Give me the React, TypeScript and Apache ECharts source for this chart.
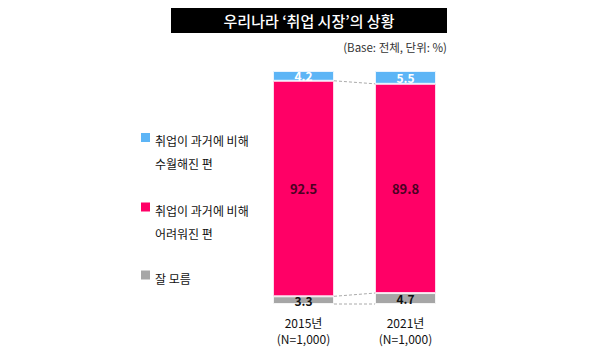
import React, { useEffect, useRef } from "react";
import * as echarts from "echarts";

const categories = ["2015년\n(N=1,000)", "2021년\n(N=1,000)"];
const easierValues = [4.2, 5.5];
const harderValues = [92.5, 89.8];
const unknownValues = [3.3, 4.7];
const seriesNames = ["취업이 과거에 비해\n수월해진 편", "취업이 과거에 비해\n어려워진 편", "잘 모름"];
const colors = ["#5DB5F6", "#FF0066", "#A6A6A6"];
const titleText = "우리나라 ‘취업 시장’의 상황";
const subtitleText = "(Base: 전체, 단위: %)";

const FONT = "'Noto Sans CJK KR', 'Noto Sans', sans-serif";

export default function App() {
  const ref = useRef<HTMLDivElement>(null);
  useEffect(() => {
    const chart = echarts.init(ref.current!, undefined, { renderer: "svg" });
    const barWidth = 61;
    const connectors = [
      [0, 0, 1, 0],
      [0, unknownValues[0], 1, unknownValues[1]],
      [0, unknownValues[0] + harderValues[0], 1, unknownValues[1] + harderValues[1]],
    ];
    const legendY = [137.5, 207, 275];
    const legendGraphics: any[] = [];
    seriesNames.forEach((name, i) => {
      legendGraphics.push({
        type: "rect",
        shape: { x: 141, y: legendY[i] - 4.5, width: 9, height: 9 },
        style: { fill: colors[i] },
      });
      legendGraphics.push({
        type: "text",
        x: 155,
        y: legendY[i] - 8.5,
        style: {
          text: name,
          fill: "#111",
          font: `12px ${FONT}`,
          lineHeight: 23,
          verticalAlign: "top",
        },
      });
    });
    chart.setOption({
      animation: false,
      grid: { left: 252.5, width: 204, top: 71, height: 233 },
      xAxis: {
        type: "category",
        data: categories,
        axisLine: { show: false },
        axisTick: { show: false },
        axisLabel: {
          color: "#111",
          fontSize: 12,
          lineHeight: 16,
          margin: 10,
          fontFamily: FONT,
        },
      },
      yAxis: { type: "value", min: 0, max: 100, show: false },
      graphic: [
        {
          type: "rect",
          shape: { x: 171, y: 8, width: 276, height: 25 },
          style: { fill: "#000" },
        },
        {
          type: "text",
          x: 309,
          y: 20.5,
          style: {
            text: titleText,
            fill: "#fff",
            font: `500 15px ${FONT}`,
            align: "center",
            verticalAlign: "middle",
          },
        },
        {
          type: "text",
          x: 447,
          y: 47,
          style: {
            text: subtitleText,
            fill: "#333",
            font: `11.5px ${FONT}`,
            align: "right",
            verticalAlign: "middle",
          },
        },
        ...legendGraphics,
      ],
      series: [
        {
          name: seriesNames[2],
          type: "bar",
          stack: "s",
          barWidth,
          data: unknownValues,
          itemStyle: { color: colors[2], borderColor: "#f4f4f4", borderWidth: 1 },
          label: {
            show: true,
            position: "inside",
            color: "#111",
            fontSize: 12,
            fontWeight: "bold",
            fontFamily: FONT,
          },
        },
        {
          name: seriesNames[1],
          type: "bar",
          stack: "s",
          barWidth,
          data: harderValues,
          itemStyle: { color: colors[1], borderColor: "#ffd6ea", borderWidth: 1 },
          label: {
            show: true,
            position: "inside",
            color: "#4a0022",
            fontSize: 13,
            fontWeight: "bold",
            fontFamily: FONT,
          },
        },
        {
          name: seriesNames[0],
          type: "bar",
          stack: "s",
          barWidth,
          data: easierValues,
          itemStyle: { color: colors[0], borderColor: "#e8f4ff", borderWidth: 1 },
          label: {
            show: true,
            position: "inside",
            color: "#fff",
            fontSize: 12,
            fontWeight: "bold",
            fontFamily: FONT,
          },
        },
        {
          type: "custom",
          silent: true,
          data: connectors,
          renderItem: (params: any, api: any) => {
            const p1 = api.coord([api.value(0), api.value(1)]);
            const p2 = api.coord([api.value(2), api.value(3)]);
            return {
              type: "line",
              shape: {
                x1: p1[0] + barWidth / 2,
                y1: p1[1],
                x2: p2[0] - barWidth / 2,
                y2: p2[1],
              },
              style: { stroke: "#aaa", lineWidth: 1, lineDash: [3, 2] },
            };
          },
        },
      ],
    });
    return () => chart.dispose();
  }, []);
  return (
    <div
      ref={ref}
      style={{ position: "absolute", left: 0, top: 0, width: 600, height: 357 }}
    />
  );
}
